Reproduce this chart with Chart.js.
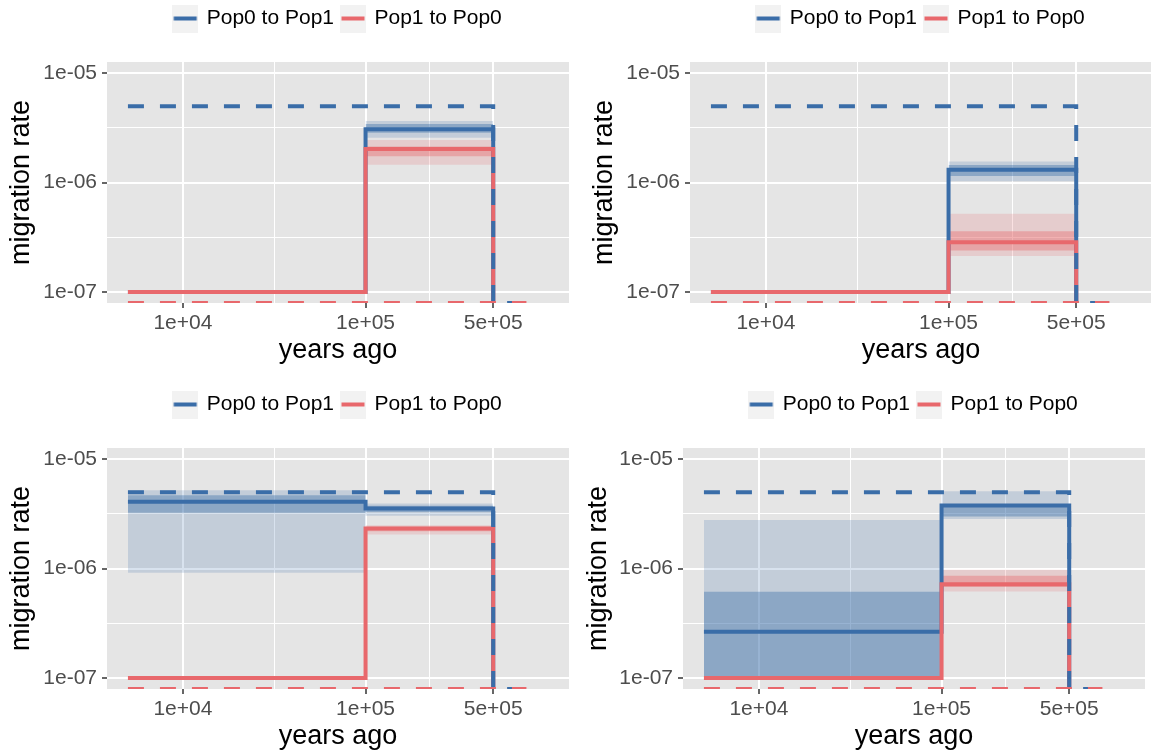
<!DOCTYPE html>
<html lang="en">
<head>
<meta charset="UTF-8">
<title>Migration rate through time</title>
<style>
  html, body { margin: 0; padding: 0; background: #fff; width: 1151px; height: 754px; overflow: hidden; }
  canvas { position: absolute; }
</style>
</head>
<body>
<canvas id="panelA" width="575" height="386" style="left:0;top:0"></canvas>
<canvas id="panelB" width="577" height="386" style="left:575px;top:0"></canvas>
<canvas id="panelC" width="575" height="386" style="left:0;top:386px"></canvas>
<canvas id="panelD" width="577" height="386" style="left:575px;top:386px"></canvas>

<script src="https://cdn.jsdelivr.net/npm/chart.js"></script>
<script>
// ---- data ----
const SERIES_NAMES = ['Pop0 to Pop1', 'Pop1 to Pop0'];

const X_TICKS = [1e4, 1e5, 5e5];
const X_TICK_LABELS = ['1e+04', '1e+05', '5e+05'];
const Y_TICKS = [1e-7, 1e-6, 1e-5];
const Y_TICK_LABELS = ['1e-07', '1e-06', '1e-05'];
const X_RANGE = [3840, 1.3e6];
const Y_RANGE = [7.95e-8, 1.267e-5];

// epoch boundaries, years ago
const EPOCHS = [5000, 1e5, 5e5];
const TAIL_END = 7.6e5;

// simulated (true) rates per epoch; 0 sits on the panel floor
const TRUE_01 = [5e-6, 5e-6];
const TRUE_10 = [0, 0];

// panel A (top left)
const A_EST_01 = [1.0e-7, 3.07e-6];
const A_EST_10 = [1.0e-7, 2.03e-6];
const A_OUTER_01 = [null, [2.57e-6, 3.66e-6]];
const A_INNER_01 = [null, [2.86e-6, 3.44e-6]];
const A_OUTER_10 = [null, [1.46e-6, 2.46e-6]];
const A_INNER_10 = [null, [1.74e-6, 2.14e-6]];

// panel B (top right)
const B_EST_01 = [1.0e-7, 1.31e-6];
const B_EST_10 = [1.0e-7, 2.86e-7];
const B_OUTER_01 = [null, [1.03e-6, 1.56e-6]];
const B_INNER_01 = [null, [1.15e-6, 1.45e-6]];
const B_OUTER_10 = [null, [2.14e-7, 5.2e-7]];
const B_INNER_10 = [null, [2.4e-7, 3.6e-7]];

// panel C (bottom left)
const C_EST_01 = [4.08e-6, 3.55e-6];
const C_EST_10 = [1.0e-7, 2.33e-6];
const C_OUTER_01 = [[9.2e-7, 5.2e-6], [3.05e-6, 3.95e-6]];
const C_INNER_01 = [[3.25e-6, 4.69e-6], [3.3e-6, 3.75e-6]];
const C_OUTER_10 = [null, [2.05e-6, 2.5e-6]];
const C_INNER_10 = [null, [2.2e-6, 2.42e-6]];

// panel D (bottom right)
const D_EST_01 = [2.65e-7, 3.77e-6];
const D_EST_10 = [1.0e-7, 7.2e-7];
const D_OUTER_01 = [[1.0e-7, 2.79e-6], [2.85e-6, 5.1e-6]];
const D_INNER_01 = [[1.0e-7, 6.14e-7], [3.0e-6, 3.7e-6]];
const D_OUTER_10 = [null, [6.2e-7, 9.8e-7]];
const D_INNER_10 = [null, [6.8e-7, 8.6e-7]];

// ---- styling ----
const FONT = "'Liberation Sans', Arial, Helvetica, sans-serif";
const BLUE = '#3A6DA8';
const RED = '#E8686C';
const PANEL_GREY = '#E5E5E5';
const KEY_GREY = '#F2F2F2';
const OUTER_ALPHA = 0.2;
const INNER_ALPHA = 0.4;
const ZERO = Y_RANGE[0]; // a rate of 0 is drawn on the bottom edge, like ggplot's -Inf

// log-midpoint minor grid lines, as ggplot places them
const X_GRID = [1e4, Math.pow(10, 4.5), 1e5, Math.pow(10, 5.3495), 5e5];
const Y_GRID = [1e-7, Math.pow(10, -6.5), 1e-6, Math.pow(10, -5.5), 1e-5];

function rgba(hex, a) {
  const n = parseInt(hex.slice(1), 16);
  return `rgba(${n >> 16}, ${(n >> 8) & 255}, ${n & 255}, ${a})`;
}

function labelFor(v, ticks, labels) {
  const i = ticks.findIndex(t => Math.abs(v - t) <= t * 1e-6);
  return i < 0 ? '' : labels[i];
}

function stepLine(values, withTail) {
  const pts = values.map((v, i) => ({ x: EPOCHS[i], y: v > 0 ? v : ZERO }));
  pts.push({ x: EPOCHS[values.length], y: ZERO });
  if (withTail) pts.push({ x: TAIL_END, y: ZERO });
  return pts;
}

function bandEdge(band, k) {
  const idx = band.map((b, i) => (b ? i : -1)).filter(i => i >= 0);
  const pts = idx.map(i => ({ x: EPOCHS[i], y: band[i][k] }));
  const last = idx[idx.length - 1];
  pts.push({ x: EPOCHS[last + 1], y: band[last][k] });
  return pts;
}

function lineSet(data, color, dashed) {
  return {
    data, borderColor: color, borderWidth: 4, borderDash: dashed ? [16, 16] : [],
    stepped: true, pointRadius: 0, fill: false, clip: 0
  };
}

function addBand(list, band, color, alpha) {
  if (!band.some(Boolean)) return;
  const edge = { borderColor: 'rgba(0,0,0,0)', borderWidth: 0, stepped: true, pointRadius: 0, clip: 0 };
  list.push(Object.assign({ data: bandEdge(band, 1), backgroundColor: rgba(color, alpha), fill: '+1' }, edge));
  list.push(Object.assign({ data: bandEdge(band, 0), fill: false }, edge));
}

function legendKey(color) {
  const c = document.createElement('canvas');
  c.width = 26; c.height = 28;
  const g = c.getContext('2d');
  g.fillStyle = KEY_GREY;
  g.fillRect(0, 0, 26, 28);
  g.strokeStyle = color;
  g.lineWidth = 4;
  g.beginPath(); g.moveTo(1.5, 14); g.lineTo(24.5, 14); g.stroke();
  return c;
}
const KEYS = [legendKey(BLUE), legendKey(RED)];

const panelBg = {
  id: 'panelBg',
  beforeDraw(chart) {
    const { ctx, chartArea: a } = chart;
    ctx.save();
    ctx.fillStyle = PANEL_GREY;
    ctx.fillRect(a.left, a.top, a.right - a.left, a.bottom - a.top);
    ctx.restore();
  }
};

// legend sits at the top, the gap below it belongs to it
const legendSpace = {
  id: 'legendSpace',
  beforeUpdate(chart, args, opts) {
    const lg = chart.legend;
    if (lg && !lg._spaced) {
      const fit = lg.fit;
      lg.fit = function () { fit.call(this); this.height = opts.height; };
      lg._spaced = true;
    }
  }
};

function makePanel(canvasId, p) {
  const datasets = [];
  datasets.push(lineSet(stepLine(TRUE_10, true), RED, true));
  datasets.push(lineSet(stepLine(TRUE_01, true), BLUE, true));
  datasets.push(lineSet(stepLine(p.est10, false), RED, false));
  datasets.push(lineSet(stepLine(p.est01, false), BLUE, false));
  addBand(datasets, p.inner10, RED, INNER_ALPHA);
  addBand(datasets, p.outer10, RED, OUTER_ALPHA);
  addBand(datasets, p.inner01, BLUE, INNER_ALPHA);
  addBand(datasets, p.outer01, BLUE, OUTER_ALPHA);

  const canvas = document.getElementById(canvasId);
  const W = canvas.width, H = canvas.height;

  const tickGrid = ticks => ({
    color: '#FFFFFF',
    lineWidth: c => (labelFor(c.tick.value, ticks, ticks.map(String)) ? 2 : 1),
    tickColor: c => (labelFor(c.tick.value, ticks, ticks.map(String)) ? '#333333' : 'rgba(0,0,0,0)'),
    tickLength: 5,
    tickWidth: 1.5,
    drawTicks: true
  });

  new Chart(canvas, {
    type: 'line',
    data: { datasets },
    options: {
      responsive: false,
      animation: false,
      events: [],
      layout: { padding: { left: 0, top: 0, right: W - p.area.right, bottom: 0 } },
      plugins: {
        tooltip: { enabled: false },
        legendSpace: { height: p.area.top },
        legend: {
          position: 'top',
          align: 'center',
          fullSize: false,
          labels: {
            usePointStyle: true,
            pointStyleWidth: 22,
            padding: 8,
            color: '#000',
            font: { family: FONT, size: 21 },
            generateLabels: () => SERIES_NAMES.map((name, i) => ({
              text: name, pointStyle: KEYS[i], fillStyle: 'rgba(0,0,0,0)',
              strokeStyle: 'rgba(0,0,0,0)', lineWidth: 0, hidden: false, datasetIndex: i
            }))
          }
        }
      },
      scales: {
        x: {
          type: 'logarithmic',
          min: X_RANGE[0],
          max: X_RANGE[1],
          afterBuildTicks: s => { s.ticks = X_GRID.map(v => ({ value: v })); },
          afterFit: s => { s.height = H - p.area.bottom; },
          border: { display: false },
          grid: tickGrid(X_TICKS),
          ticks: {
            autoSkip: false, maxRotation: 0, minRotation: 0, padding: 3,
            color: '#4D4D4D', font: { family: FONT, size: 21 },
            callback: v => labelFor(v, X_TICKS, X_TICK_LABELS)
          },
          title: {
            display: true, text: 'years ago', color: '#000',
            font: { family: FONT, size: 27 }, padding: { top: 0, bottom: 19 }
          }
        },
        y: {
          type: 'logarithmic',
          min: Y_RANGE[0],
          max: Y_RANGE[1],
          afterBuildTicks: s => { s.ticks = Y_GRID.map(v => ({ value: v })); },
          afterFit: s => { s.width = p.area.left; },
          border: { display: false },
          grid: tickGrid(Y_TICKS),
          ticks: {
            autoSkip: false, padding: 5,
            color: '#4D4D4D', font: { family: FONT, size: 21 },
            callback: v => labelFor(v, Y_TICKS, Y_TICK_LABELS)
          },
          title: {
            display: true, text: 'migration rate', color: '#000',
            font: { family: FONT, size: 27 }, padding: { top: p.titlePad, bottom: 0 }
          }
        }
      }
    },
    plugins: [panelBg, legendSpace]
  });
}

makePanel('panelA', {
  est01: A_EST_01, est10: A_EST_10, outer01: A_OUTER_01, inner01: A_INNER_01,
  outer10: A_OUTER_10, inner10: A_INNER_10,
  area: { left: 107, right: 569, top: 62, bottom: 303 }, titlePad: 5
});
makePanel('panelB', {
  est01: B_EST_01, est10: B_EST_10, outer01: B_OUTER_01, inner01: B_INNER_01,
  outer10: B_OUTER_10, inner10: B_INNER_10,
  area: { left: 115, right: 577, top: 62, bottom: 303 }, titlePad: 13
});
makePanel('panelC', {
  est01: C_EST_01, est10: C_EST_10, outer01: C_OUTER_01, inner01: C_INNER_01,
  outer10: C_OUTER_10, inner10: C_INNER_10,
  area: { left: 107, right: 569, top: 62, bottom: 303 }, titlePad: 5
});
makePanel('panelD', {
  est01: D_EST_01, est10: D_EST_10, outer01: D_OUTER_01, inner01: D_INNER_01,
  outer10: D_OUTER_10, inner10: D_INNER_10,
  area: { left: 108, right: 570, top: 62, bottom: 303 }, titlePad: 7
});
</script>
</body>
</html>
